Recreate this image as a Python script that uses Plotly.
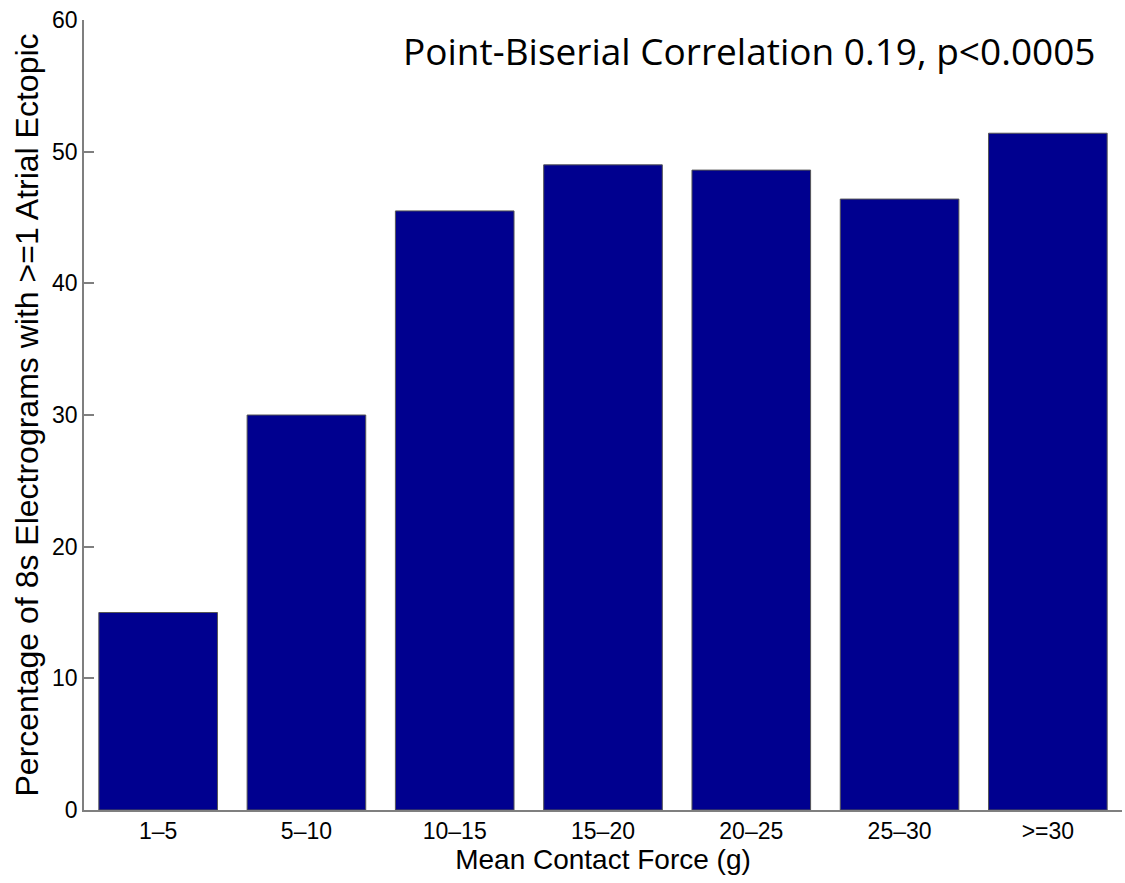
import plotly.graph_objects as go

# Contact-force bins and share of 8 s electrograms with at least one atrial ectopic
force_bins = ["1\u20135", "5\u201310", "10\u201315", "15\u201320", "20\u201325", "25\u201330", ">=30"]
pct_ectopic = [15.0, 30.0, 45.5, 49.0, 48.6, 46.4, 51.4]
y_ticks = [0, 10, 20, 30, 40, 50, 60]

bar_color = "#00008F"
axis_grey = "#7f7f7f"
sans = "Liberation Sans, Arial, Helvetica, sans-serif"

x_pos = list(range(1, len(force_bins) + 1))

fig = go.Figure(
    go.Bar(
        x=x_pos,
        y=pct_ectopic,
        width=0.8,
        marker=dict(color=bar_color, line=dict(color="#555555", width=1)),
        hoverinfo="skip",
    )
)

fig.update_layout(
    width=1125,
    height=883,
    margin=dict(l=84, r=3, t=20, b=73),
    paper_bgcolor="white",
    plot_bgcolor="white",
    showlegend=False,
    font=dict(family=sans, color="black"),
    xaxis=dict(
        range=[0.5, 7.5],
        tickmode="array",
        tickvals=x_pos,
        ticktext=force_bins,
        ticks="",
        showline=True,
        linecolor=axis_grey,
        linewidth=1.5,
        showgrid=False,
        zeroline=False,
        tickfont=dict(size=23, family=sans),
        title=dict(text="Mean Contact Force (g)", font=dict(size=28, family=sans), standoff=6),
    ),
    yaxis=dict(
        range=[0, 60],
        tickmode="array",
        tickvals=y_ticks,
        ticks="inside",
        ticklen=10,
        tickcolor=axis_grey,
        tickwidth=1.5,
        showline=True,
        linecolor=axis_grey,
        linewidth=1.5,
        showgrid=False,
        zeroline=False,
        tickfont=dict(size=23, family=sans),
        title=dict(
            text="Percentage of 8s Electrograms with >=1 Atrial Ectopic",
            font=dict(size=32, family=sans),
            standoff=4,
        ),
    ),
    annotations=[
        dict(
            text="Point-Biserial Correlation 0.19, p<0.0005",
            xref="paper",
            yref="paper",
            x=0.977,
            y=0.962,
            xanchor="right",
            yanchor="middle",
            showarrow=False,
            font=dict(size=37, family="Open Sans, Lato, sans-serif", color="black"),
        )
    ],
)

fig.write_html("out.html")
